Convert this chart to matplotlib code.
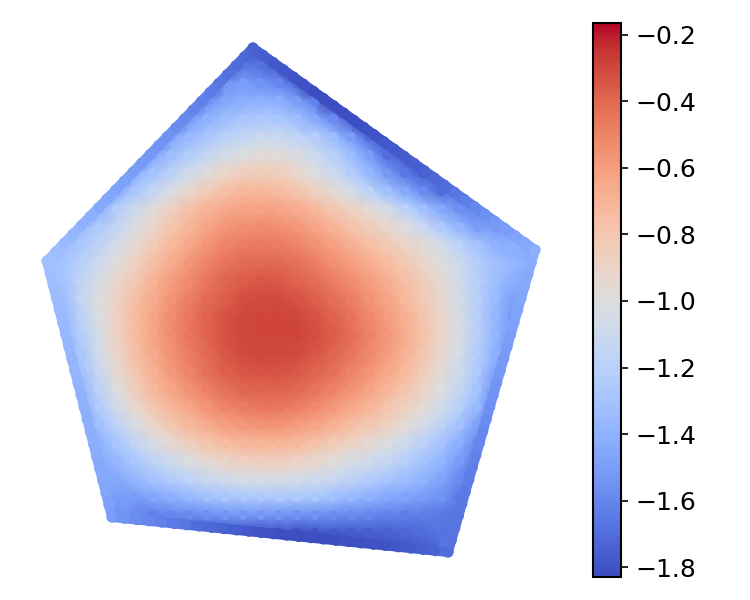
import matplotlib
matplotlib.use("Agg")
import matplotlib.pyplot as plt
from matplotlib.collections import LineCollection
from matplotlib.path import Path
import numpy as np

corners_x = [47, 253, 535, 448, 112]
corners_y = [261, 48, 250, 552, 517]

grid_x0 = 45
grid_y0 = 47
grid_step = 18

# first grid column used by each row, then the values of that row
first_col = [11, 10, 9, 8, 7, 6, 5, 4, 3, 2, 1, 0, 0, 0, 0, 0, 1, 1, 1, 2, 2, 2, 3, 3, 3, 4, 4, 10, 21]
field = [
    [-1.68, -1.72],
    [-1.65, -1.66, -1.68, -1.74, -1.80],
    [-1.60, -1.52, -1.50, -1.55, -1.60, -1.72, -1.80],
    [-1.60, -1.56, -1.46, -1.42, -1.40, -1.42, -1.50, -1.62, -1.78],
    [-1.58, -1.50, -1.40, -1.33, -1.28, -1.26, -1.27, -1.33, -1.44, -1.58, -1.76],
    [-1.55, -1.46, -1.36, -1.28, -1.20, -1.15, -1.11, -1.12, -1.16, -1.22, -1.34, -1.50, -1.70, -1.80],
    [-1.52, -1.45, -1.33, -1.23, -1.14, -1.06, -1.00, -0.97, -0.98, -1.02, -1.10, -1.20, -1.34, -1.50, -1.70, -1.80],
    [-1.50, -1.42, -1.30, -1.19, -1.08, -0.99, -0.91, -0.86, -0.84, -0.86, -0.92, -1.00, -1.10, -1.22, -1.36, -1.52, -1.66, -1.76, -1.80],
    [-1.45, -1.44, -1.27, -1.15, -1.04, -0.93, -0.84, -0.77, -0.73, -0.72, -0.74, -0.79, -0.87, -0.96, -1.06, -1.18, -1.32, -1.45, -1.58, -1.70, -1.75],
    [-1.40, -1.40, -1.22, -1.10, -0.98, -0.87, -0.78, -0.70, -0.65, -0.62, -0.62, -0.63, -0.67, -0.73, -0.80, -0.88, -0.96, -1.06, -1.18, -1.32, -1.44, -1.56, -1.60],
    [-1.38, -1.33, -1.25, -1.14, -1.02, -0.91, -0.80, -0.71, -0.63, -0.57, -0.54, -0.53, -0.54, -0.57, -0.63, -0.70, -0.78, -0.85, -0.92, -1.00, -1.12, -1.25, -1.38, -1.50, -1.52],
    [-1.36, -1.33, -1.27, -1.17, -1.05, -0.94, -0.83, -0.73, -0.64, -0.56, -0.50, -0.47, -0.46, -0.47, -0.50, -0.55, -0.61, -0.68, -0.75, -0.82, -0.89, -0.97, -1.06, -1.18, -1.30, -1.40, -1.42],
    [-1.33, -1.30, -1.20, -1.10, -0.98, -0.87, -0.76, -0.66, -0.57, -0.50, -0.44, -0.41, -0.40, -0.40, -0.43, -0.48, -0.54, -0.60, -0.67, -0.74, -0.82, -0.90, -0.99, -1.10, -1.22, -1.32, -1.38, -1.36],
    [-1.38, -1.30, -1.16, -1.04, -0.92, -0.81, -0.70, -0.60, -0.52, -0.45, -0.39, -0.36, -0.34, -0.35, -0.38, -0.42, -0.47, -0.53, -0.60, -0.67, -0.76, -0.85, -0.95, -1.07, -1.20, -1.32, -1.42],
    [-1.42, -1.33, -1.14, -1.01, -0.88, -0.76, -0.66, -0.56, -0.48, -0.41, -0.36, -0.32, -0.31, -0.31, -0.33, -0.37, -0.42, -0.48, -0.55, -0.63, -0.72, -0.82, -0.93, -1.06, -1.20, -1.35, -1.48],
    [-1.45, -1.37, -1.19, -1.02, -0.87, -0.74, -0.63, -0.53, -0.45, -0.38, -0.33, -0.30, -0.29, -0.29, -0.30, -0.33, -0.38, -0.44, -0.51, -0.59, -0.68, -0.79, -0.91, -1.05, -1.20, -1.37, -1.52],
    [-1.40, -1.23, -1.04, -0.88, -0.74, -0.63, -0.53, -0.45, -0.38, -0.33, -0.30, -0.29, -0.29, -0.29, -0.32, -0.36, -0.42, -0.49, -0.57, -0.67, -0.78, -0.90, -1.04, -1.20, -1.38, -1.55],
    [-1.42, -1.27, -1.07, -0.90, -0.76, -0.65, -0.55, -0.47, -0.40, -0.34, -0.31, -0.30, -0.30, -0.31, -0.34, -0.38, -0.44, -0.51, -0.59, -0.69, -0.80, -0.92, -1.06, -1.22, -1.40, -1.58],
    [-1.46, -1.30, -1.12, -0.94, -0.80, -0.68, -0.58, -0.50, -0.43, -0.37, -0.34, -0.33, -0.33, -0.35, -0.38, -0.43, -0.49, -0.56, -0.64, -0.73, -0.84, -0.96, -1.09, -1.25, -1.45],
    [-1.34, -1.17, -1.00, -0.85, -0.73, -0.63, -0.55, -0.48, -0.43, -0.39, -0.38, -0.38, -0.40, -0.44, -0.49, -0.55, -0.62, -0.70, -0.79, -0.89, -1.00, -1.14, -1.30, -1.50],
    [-1.40, -1.24, -1.07, -0.93, -0.81, -0.71, -0.63, -0.56, -0.50, -0.47, -0.45, -0.45, -0.48, -0.52, -0.58, -0.64, -0.71, -0.79, -0.87, -0.96, -1.07, -1.20, -1.36, -1.55],
    [-1.45, -1.32, -1.17, -1.03, -0.91, -0.81, -0.73, -0.66, -0.61, -0.58, -0.56, -0.56, -0.59, -0.63, -0.69, -0.75, -0.81, -0.88, -0.96, -1.05, -1.17, -1.30, -1.48],
    [-1.40, -1.28, -1.15, -1.04, -0.94, -0.86, -0.79, -0.74, -0.71, -0.70, -0.70, -0.73, -0.77, -0.83, -0.88, -0.94, -1.01, -1.09, -1.19, -1.30, -1.42, -1.58],
    [-1.46, -1.37, -1.27, -1.17, -1.09, -1.01, -0.95, -0.90, -0.87, -0.86, -0.86, -0.89, -0.93, -0.98, -1.03, -1.08, -1.14, -1.21, -1.30, -1.38, -1.50],
    [-1.45, -1.44, -1.38, -1.30, -1.23, -1.17, -1.11, -1.07, -1.04, -1.03, -1.03, -1.05, -1.08, -1.12, -1.17, -1.22, -1.28, -1.33, -1.39, -1.47, -1.58],
    [-1.50, -1.50, -1.46, -1.41, -1.36, -1.31, -1.28, -1.26, -1.25, -1.25, -1.26, -1.27, -1.31, -1.36, -1.40, -1.44, -1.47, -1.50, -1.55, -1.65],
    [-1.55, -1.58, -1.62, -1.60, -1.58, -1.56, -1.54, -1.53, -1.53, -1.54, -1.55, -1.55, -1.57, -1.58, -1.60, -1.62, -1.63, -1.64, -1.65, -1.68],
    [-1.74, -1.76, -1.78, -1.80, -1.82, -1.80, -1.78, -1.77, -1.76, -1.75, -1.73, -1.70, -1.68],
    [-1.70, -1.64],
]

# values along each side of the outline, walking clockwise from the left corner
upper_left = [-1.32, -1.34, -1.36, -1.38, -1.40, -1.42, -1.44, -1.46, -1.47, -1.49, -1.50, -1.52, -1.53,
              -1.54, -1.55, -1.57, -1.59, -1.61, -1.63, -1.65, -1.67, -1.69, -1.71, -1.73, -1.75]
upper_right = [-1.75, -1.76, -1.78, -1.79, -1.80, -1.81, -1.82, -1.82, -1.82, -1.82, -1.82, -1.81, -1.80,
               -1.79, -1.78, -1.77, -1.76, -1.74, -1.72, -1.70, -1.67, -1.64, -1.60, -1.56, -1.53, -1.50,
               -1.47, -1.44, -1.42]
right_side = [-1.42, -1.43, -1.44, -1.45, -1.46, -1.47, -1.48, -1.50, -1.51, -1.52, -1.53, -1.54, -1.55,
              -1.56, -1.58, -1.59, -1.60, -1.62, -1.63, -1.64, -1.65, -1.66, -1.67, -1.67, -1.68, -1.68]
bottom_side = [-1.70, -1.74, -1.76, -1.78, -1.79, -1.80, -1.80, -1.81, -1.81, -1.82, -1.82, -1.82, -1.82,
               -1.82, -1.81, -1.80, -1.78, -1.76, -1.74, -1.72, -1.70, -1.67, -1.65, -1.62, -1.60, -1.57,
               -1.54, -1.50]
left_side = [-1.50, -1.48, -1.46, -1.45, -1.44, -1.43, -1.42, -1.42, -1.41, -1.40, -1.40, -1.39, -1.38,
             -1.38, -1.37, -1.36, -1.36, -1.35, -1.34, -1.33, -1.32, -1.31]
sides = [upper_left, upper_right, right_side, bottom_side, left_side]

color_min = -1.83
color_max = -0.164
bar_ticks = [-1.8, -1.6, -1.4, -1.2, -1.0, -0.8, -0.6, -0.4, -0.2]

grid_px, grid_py, grid_c = [], [], []
for r, (start, row) in enumerate(zip(first_col, field)):
    for c, val in enumerate(row):
        grid_px.append(grid_x0 + (start + c) * grid_step)
        grid_py.append(grid_y0 + r * grid_step)
        grid_c.append(val)

# only the grid cells that fall inside the outline are drawn
outline = Path(np.column_stack([corners_x, corners_y]))
keep = outline.contains_points(np.column_stack([grid_px, grid_py]))
grid_px = np.array(grid_px)[keep]
grid_py = np.array(grid_py)[keep]
grid_c = np.array(grid_c)[keep]

edge_px, edge_py, edge_c = [], [], []
for i, side in enumerate(sides):
    j = (i + 1) % 5
    edge_px.extend(np.linspace(corners_x[i], corners_x[j], len(side)))
    edge_py.extend(np.linspace(corners_y[i], corners_y[j], len(side)))
    edge_c.extend(side)

all_x = np.concatenate([grid_px, edge_px])
all_y = np.concatenate([grid_py, edge_py])
all_c = np.concatenate([grid_c, edge_c])

fig = plt.figure(figsize=(5, 4), dpi=150)
ax = fig.add_axes([0, 0, 560 / 750, 1])
ax.set_xlim(0, 560)
ax.set_ylim(600, 0)
ax.axis("off")

mesh = ax.tripcolor(all_x, all_y, all_c, shading="gouraud", cmap="coolwarm", vmin=color_min, vmax=color_max)
ax.scatter(grid_px, grid_py, c=grid_c, s=23, cmap="coolwarm", vmin=color_min, vmax=color_max, linewidths=0)

# band under the edge dots so the outline does not look beaded
edge_xy = np.column_stack([edge_px, edge_py])
band = LineCollection(np.stack([edge_xy, np.roll(edge_xy, -1, axis=0)], axis=1), array=np.array(edge_c),
                      cmap="coolwarm", linewidths=4.8, capstyle="round")
band.set_clim(color_min, color_max)
ax.add_collection(band)
ax.scatter(edge_px, edge_py, c=edge_c, s=28, cmap="coolwarm", vmin=color_min, vmax=color_max,
           linewidths=0, clip_on=False)

cax = fig.add_axes([593 / 750, 23 / 600, 28 / 750, 554 / 600])
cbar = fig.colorbar(mesh, cax=cax)
cbar.set_ticks(bar_ticks)
cbar.ax.tick_params(labelsize=12, length=3.5, width=0.8)
cbar.outline.set_linewidth(1.0)

fig.savefig("out.png", dpi=150)
